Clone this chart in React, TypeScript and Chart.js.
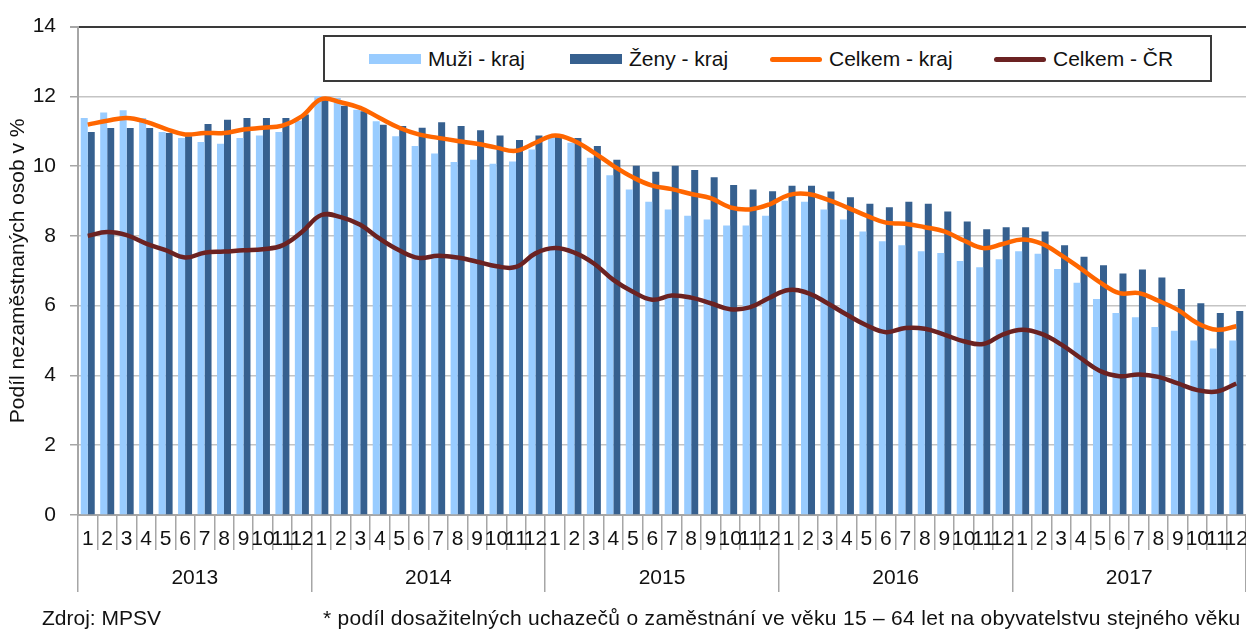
import React, { useEffect, useRef } from 'react';
import { Chart, registerables } from 'chart.js';

Chart.register(...registerables);

const years = ['2013', '2014', '2015', '2016', '2017'];
const months = ['1', '2', '3', '4', '5', '6', '7', '8', '9', '10', '11', '12'];
const categories = years.flatMap(() => months);

const muziKraj = [
  11.38, 11.54, 11.6, 11.38, 10.98, 10.81, 10.69, 10.64, 10.81, 10.88, 10.98, 11.3,
  12.0, 11.95, 11.62, 11.29, 10.86, 10.58, 10.36, 10.12, 10.18, 10.07, 10.13, 10.48,
  10.84, 10.67, 10.24, 9.74, 9.33, 8.98, 8.76, 8.58, 8.47, 8.3, 8.3, 8.58,
  9.01, 8.98, 8.76, 8.47, 8.13, 7.85, 7.73, 7.56, 7.51, 7.28, 7.1, 7.33,
  7.56, 7.49, 7.05, 6.66, 6.19, 5.79, 5.67, 5.39, 5.28, 5.0, 4.77, 5.0,
];

const zenyKraj = [
  10.98, 11.09, 11.09, 11.09, 10.95, 10.86, 11.21, 11.33, 11.38, 11.38, 11.38, 11.48,
  11.95, 11.73, 11.57, 11.19, 11.15, 11.1, 11.26, 11.15, 11.03, 10.88, 10.75, 10.88,
  10.86, 10.81, 10.58, 10.18, 10.01, 9.84, 10.01, 9.89, 9.68, 9.46, 9.33, 9.28,
  9.44, 9.44, 9.27, 9.11, 8.92, 8.82, 8.98, 8.92, 8.7, 8.41, 8.19, 8.25,
  8.25, 8.13, 7.73, 7.4, 7.16, 6.92, 7.04, 6.81, 6.48, 6.07, 5.79, 5.85,
];

const celkemKraj = [
  11.19, 11.3, 11.38, 11.27, 11.07, 10.91, 10.95, 10.95, 11.05, 11.1, 11.16, 11.43,
  11.92, 11.83, 11.67, 11.38, 11.1, 10.91, 10.81, 10.72, 10.64, 10.53, 10.44, 10.67,
  10.88, 10.72, 10.39, 10.01, 9.68, 9.44, 9.34, 9.2, 9.08, 8.82, 8.76, 8.9,
  9.17, 9.2, 9.04, 8.82, 8.58, 8.38, 8.35, 8.25, 8.13, 7.87, 7.65, 7.77,
  7.9, 7.78, 7.45, 7.07, 6.67, 6.36, 6.36, 6.14, 5.88, 5.5, 5.31, 5.41,
];

const celkemCR = [
  8.0, 8.11, 8.02, 7.78, 7.59, 7.38, 7.52, 7.55, 7.59, 7.62, 7.73, 8.11,
  8.6, 8.54, 8.32, 7.92, 7.59, 7.37, 7.43, 7.38, 7.26, 7.13, 7.11, 7.5,
  7.65, 7.52, 7.21, 6.74, 6.4, 6.17, 6.29, 6.23, 6.07, 5.9, 5.95, 6.22,
  6.45, 6.36, 6.07, 5.74, 5.44, 5.24, 5.36, 5.34, 5.17, 4.98, 4.9, 5.17,
  5.31, 5.19, 4.89, 4.5, 4.13, 3.98, 4.03, 3.96, 3.77, 3.58, 3.54, 3.77,
];

const yTicks = [0, 2, 4, 6, 8, 10, 12, 14];

const FONT = '"Liberation Sans", Arial, sans-serif';
const FS = 21;
const C_MUZI = '#99ccff';
const C_ZENY = '#36608f';
const C_KRAJ = '#ff6600';
const C_CR = '#6b2222';
const TEXT = '#111111';

const legendItems = [
  { label: 'Muži - kraj', color: C_MUZI, kind: 'bar', left: 369 },
  { label: 'Ženy - kraj', color: C_ZENY, kind: 'bar', left: 570 },
  { label: 'Celkem - kraj', color: C_KRAJ, kind: 'line', left: 770 },
  { label: 'Celkem - ČR', color: C_CR, kind: 'line', left: 994 },
];

export default function App() {
  const canvasRef = useRef<HTMLCanvasElement | null>(null);

  useEffect(() => {
    document.body.style.margin = '0';
    const canvas = canvasRef.current;
    if (!canvas) return;
    const chart = new Chart(canvas, {
      type: 'bar',
      data: {
        labels: categories,
        datasets: [
          {
            type: 'line',
            label: 'Celkem - kraj',
            data: celkemKraj,
            borderColor: C_KRAJ,
            backgroundColor: C_KRAJ,
            borderWidth: 4.5,
            pointRadius: 0,
            tension: 0.4,
            fill: false,
            order: 0,
            xAxisID: 'x',
            yAxisID: 'y',
          },
          {
            type: 'line',
            label: 'Celkem - ČR',
            data: celkemCR,
            borderColor: C_CR,
            backgroundColor: C_CR,
            borderWidth: 4.5,
            pointRadius: 0,
            tension: 0.4,
            fill: false,
            order: 0,
            xAxisID: 'x',
            yAxisID: 'y',
          },
          {
            type: 'bar',
            label: 'Muži - kraj',
            data: muziKraj,
            backgroundColor: C_MUZI,
            borderWidth: 0,
            categoryPercentage: 0.72,
            barPercentage: 1.0,
            order: 1,
            xAxisID: 'x',
            yAxisID: 'y',
          },
          {
            type: 'bar',
            label: 'Ženy - kraj',
            data: zenyKraj,
            backgroundColor: C_ZENY,
            borderWidth: 0,
            categoryPercentage: 0.72,
            barPercentage: 1.0,
            order: 1,
            xAxisID: 'x',
            yAxisID: 'y',
          },
        ],
      },
      options: {
        responsive: false,
        animation: false,
        layout: { padding: { left: 0, right: 0, top: 23, bottom: 39 } },
        plugins: {
          legend: { display: false },
          tooltip: { enabled: false },
        },
        scales: {
          x: {
            type: 'category',
            position: 'bottom',
            weight: 0,
            offset: true,
            afterFit: (scale: any) => {
              scale.height = 35;
            },
            grid: {
              offset: true,
              drawOnChartArea: false,
              drawTicks: true,
              tickLength: 35,
              color: '#a6a6a6',
              lineWidth: 1.5,
            },
            border: { display: true, color: '#a6a6a6', width: 2 },
            ticks: {
              autoSkip: false,
              maxRotation: 0,
              minRotation: 0,
              padding: -23,
              color: TEXT,
              font: { family: FONT, size: FS },
            },
          },
          x2: {
            type: 'category',
            labels: years,
            position: 'bottom',
            weight: 1,
            offset: true,
            afterFit: (scale: any) => {
              scale.height = 42;
            },
            grid: {
              offset: true,
              drawOnChartArea: false,
              drawTicks: true,
              tickLength: 42,
              color: '#a6a6a6',
              lineWidth: 1.5,
            },
            border: { display: false },
            ticks: {
              autoSkip: false,
              maxRotation: 0,
              padding: -26,
              color: TEXT,
              font: { family: FONT, size: FS },
            },
          },
          y: {
            type: 'linear',
            min: 0,
            max: 14,
            afterFit: (scale: any) => {
              scale.width = 78;
            },
            afterBuildTicks: (scale: any) => {
              scale.ticks = yTicks.map((v) => ({ value: v }));
            },
            grid: {
              color: (ctx: any) => (ctx.tick && ctx.tick.value === 14 ? '#3a3a3a' : '#c4c4c4'),
              lineWidth: (ctx: any) => (ctx.tick && ctx.tick.value === 14 ? 2 : 1.5),
              tickColor: '#a6a6a6',
              tickLength: 8,
              drawTicks: true,
            },
            border: { display: true, color: '#a6a6a6', width: 2 },
            ticks: {
              padding: 14,
              color: TEXT,
              font: { family: FONT, size: FS },
            },
            title: {
              display: true,
              text: 'Podíl nezaměstnaných osob v %',
              color: TEXT,
              font: { family: FONT, size: FS },
              padding: { top: 6, bottom: 0 },
            },
          },
        },
      },
    });
    return () => {
      chart.destroy();
    };
  }, []);

  return (
    <div style={{ position: 'relative', width: 1246, height: 631, fontFamily: FONT, color: TEXT }}>
      <canvas ref={canvasRef} width={1246} height={631} style={{ position: 'absolute', left: 0, top: 0 }} />
      <div
        style={{
          position: 'absolute',
          left: 323,
          top: 35,
          width: 889,
          height: 47,
          boxSizing: 'border-box',
          border: '2px solid #3a3a3a',
          background: '#ffffff',
        }}
      />
      {legendItems.map((it) => (
        <div
          key={it.label}
          style={{
            position: 'absolute',
            left: it.left,
            top: 46,
            height: 26,
            display: 'flex',
            alignItems: 'center',
            fontSize: FS,
            whiteSpace: 'nowrap',
          }}
        >
          <span
            style={{
              display: 'inline-block',
              width: 52,
              height: it.kind === 'bar' ? 10 : 5,
              background: it.color,
              borderRadius: it.kind === 'bar' ? 0 : 3,
              marginRight: 7,
            }}
          />
          <span>{it.label}</span>
        </div>
      ))}
      <div style={{ position: 'absolute', left: 42, top: 606, fontSize: FS, whiteSpace: 'nowrap' }}>Zdroj: MPSV</div>
      <div style={{ position: 'absolute', left: 323, top: 606, fontSize: FS, letterSpacing: 0.3, whiteSpace: 'nowrap' }}>
        * podíl dosažitelných uchazečů o zaměstnání ve věku 15 – 64 let na obyvatelstvu stejného věku
      </div>
    </div>
  );
}
